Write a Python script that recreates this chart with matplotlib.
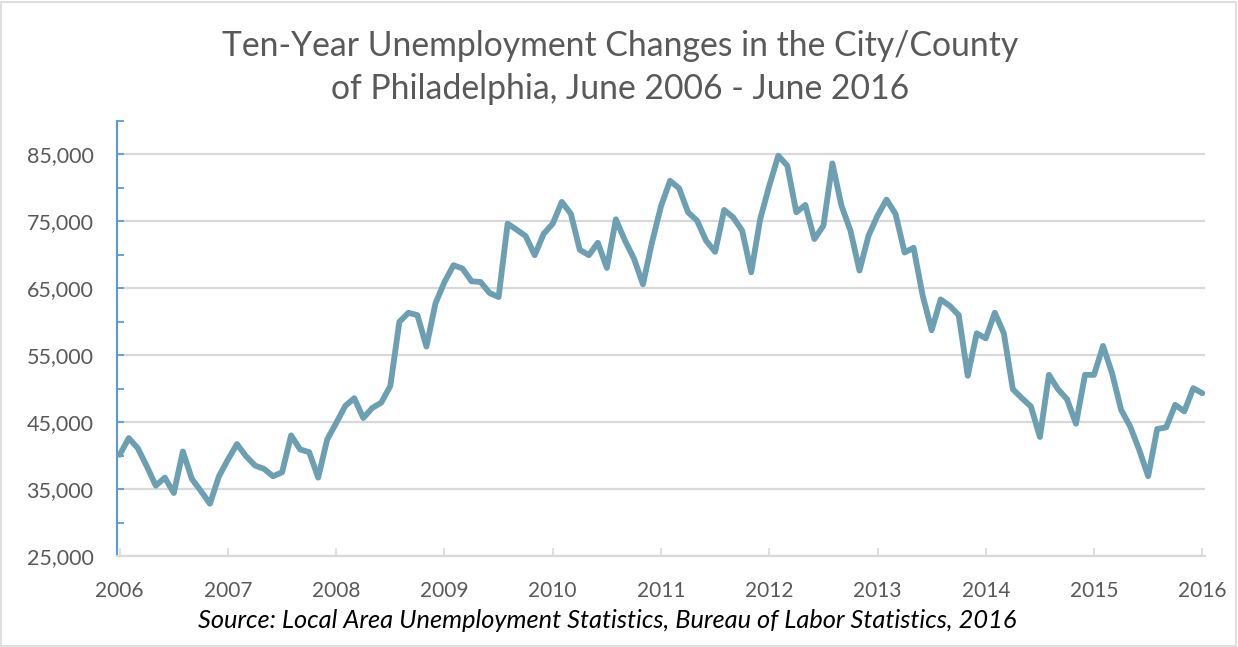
import numpy as np
import matplotlib
matplotlib.use('Agg')
import matplotlib.pyplot as plt
from matplotlib.patches import Rectangle

plt.rcParams['font.family'] = ['Lato', 'DejaVu Sans']

# ДАННЫЕ: безработица по месяцам, июнь 2006 - июнь 2016
unemployed = [
    40100, 42600, 41100, 38400, 35500, 36700, 34400, 40600, 36500, 34700,
    32800, 36900, 39400, 41700, 39900, 38500, 38000, 36900, 37500, 43000,
    40900, 40500, 36700, 42400, 44850, 47400, 48550, 45600, 47100, 47900,
    50400, 59950, 61300, 60950, 56250, 62700, 65900, 68400, 67900, 66000,
    65900, 64250, 63650, 74600, 73700, 72750, 69900, 73100, 74600, 77850,
    76100, 70700, 69900, 71750, 68000, 75250, 72100, 69400, 65550, 71800,
    77200, 81000, 79900, 76300, 75050, 72050, 70400, 76650, 75550, 73550,
    67350, 75300, 80250, 84750, 83250, 76300, 77400, 72300, 74300, 83600,
    77300, 73570, 67600, 72800, 75800, 78200, 76050, 70300, 71000, 63900,
    58700, 63300, 62350, 60950, 51900, 58240, 57490, 61310, 58240, 49900,
    48560, 47320, 42760, 52040, 49900, 48410, 44740, 52040, 52040, 56350,
    52280, 46830, 44350, 40880, 36910, 43950, 44200, 47570, 46580, 50050,
    49300,
]
year_labels = [str(y) for y in range(2006, 2017)]
y_labels_vals = list(range(25000, 85001, 10000))

title = 'Ten-Year Unemployment Changes in the City/County\nof Philadelphia, June 2006 - June 2016'
source = 'Source: Local Area Unemployment Statistics, Bureau of Labor Statistics, 2016'

# ВИЗУАЛИЗАЦИЯ
W, H = 1238, 647
fig = plt.figure(figsize=(W / 100, H / 100), dpi=100)
ax = fig.add_axes([117 / W, (H - 556) / H, (1205 - 117) / W, (556 - 120.5) / H])

months = np.arange(len(unemployed))
ax.plot(months, unemployed, color='#6b9fb1', linewidth=4.2, solid_joinstyle='round',
        solid_capstyle='round', zorder=3)

ax.set_xlim(-0.3, 120.3)
ax.set_ylim(25000, 90000)

ax.set_yticks(y_labels_vals)
ax.set_yticklabels([f'{v:,}' for v in y_labels_vals])
ax.set_yticks(list(range(30000, 90001, 10000)), minor=True)
ax.set_xticks(np.arange(0, 121, 12))
ax.set_xticklabels(year_labels)

ax.grid(axis='y', which='major', color='#d9d9d9', linewidth=1.6, zorder=0)
ax.tick_params(axis='y', which='both', direction='in', length=5, width=1.3,
               color='#5b9bd5', labelsize=15.5, labelcolor='#595959', pad=17)
ax.tick_params(axis='x', direction='in', length=6, width=1.2, color='#d9d9d9',
               labelsize=15, labelcolor='#595959', pad=18)

for side in ['top', 'right']:
    ax.spines[side].set_visible(False)
ax.spines['left'].set_color('#5b9bd5')
ax.spines['left'].set_linewidth(1.5)
ax.spines['bottom'].set_color('#d9d9d9')
ax.spines['bottom'].set_linewidth(1.6)

fig.text(620 / W, 1 - 67.5 / H, title, ha='center', va='center', fontsize=24.3,
         color='#595959', linespacing=1.42)
fig.text(607 / W, 1 - 620 / H, source, ha='center', va='center', fontsize=18.3,
         style='italic', color='black')

fig.patches.append(Rectangle((1 / W, 1 / H), (W - 3) / W, (H - 3) / H, transform=fig.transFigure,
                             fill=False, edgecolor='#d9d9d9', linewidth=1.2))

fig.savefig('out.png', dpi=100)
